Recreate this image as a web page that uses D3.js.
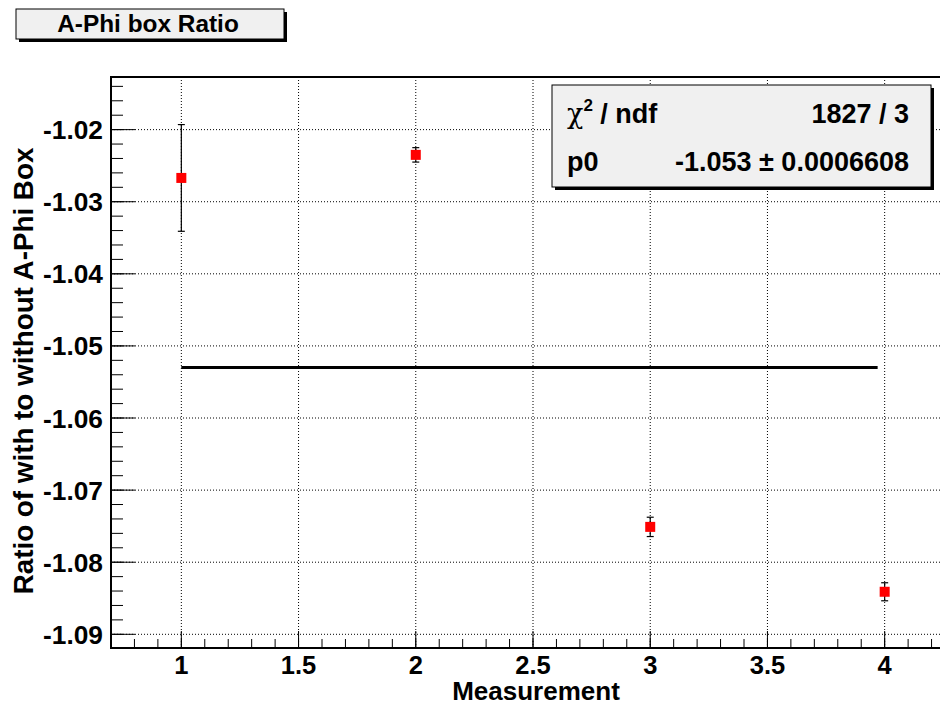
<!DOCTYPE html>
<html><head><meta charset="utf-8">
<script src="https://cdn.jsdelivr.net/npm/d3@7"></script>
<style>
body{margin:0;background:#fff;}
text{font-family:"Liberation Sans",Arial,Helvetica,sans-serif;font-weight:bold;fill:#000;}
</style></head><body>
<svg id="c" width="940" height="702"></svg>
<script>
// ---- data ----
const measurements = [1, 2, 3, 4];
const ratios = [-1.0267, -1.0235, -1.0751, -1.0841];
const errors = [0.0074, 0.0010, 0.00134, 0.00125];
const fitP0 = -1.053;
const fitRange = [1, 3.97];
const xMajorTicks = [1, 1.5, 2, 2.5, 3, 3.5, 4];
const yMajorTicks = [-1.02, -1.03, -1.04, -1.05, -1.06, -1.07, -1.08, -1.09];
const titleText = "A-Phi box Ratio";
const xTitle = "Measurement";
const yTitle = "Ratio of with to without A-Phi Box";
const statsLabels = ["/ ndf", "p0"];
const statsValues = ["1827 / 3", "-1.053 \u00b1 0.0006608"];

(function () {
const svg = d3.select("#c");
const W = 940, H = 702;
const pL = 111, pR = 955, pT = 77, pB = 648;
const x = d3.scaleLinear().domain([0.7, 4.3]).range([pL, pR]);
const y = d3.scaleLinear().domain([-1.0919, -1.0127]).range([pB, pT]);

svg.append("rect").attr("width", W).attr("height", H).attr("fill", "#fff");

// grid
const g = svg.append("g");
g.selectAll(".gx").data(xMajorTicks).enter().append("line")
  .attr("x1", d => x(d)).attr("x2", d => x(d)).attr("y1", pT).attr("y2", pB)
  .attr("stroke", "#000").attr("stroke-width", 1).attr("stroke-dasharray", "1,2");
g.selectAll(".gy").data(yMajorTicks).enter().append("line")
  .attr("x1", pL).attr("x2", pR).attr("y1", d => y(d)).attr("y2", d => y(d))
  .attr("stroke", "#000").attr("stroke-width", 1).attr("stroke-dasharray", "1,2");

// ticks
const xMinor = d3.range(8, 43).map(i => i / 10);
const yMinor = d3.range(-1090, -1012, 2).map(i => i / 1000);
const t = svg.append("g");
t.selectAll(".xm").data(xMinor).enter().append("line")
  .attr("x1", d => x(d)).attr("x2", d => x(d)).attr("y1", pB).attr("y2", pB - 9)
  .attr("stroke", "#000").attr("stroke-width", 1);
t.selectAll(".xM").data(xMajorTicks).enter().append("line")
  .attr("x1", d => x(d)).attr("x2", d => x(d)).attr("y1", pB).attr("y2", pB - 17)
  .attr("stroke", "#000").attr("stroke-width", 1);
t.selectAll(".ym").data(yMinor).enter().append("line")
  .attr("x1", pL).attr("x2", pL + 12).attr("y1", d => y(d)).attr("y2", d => y(d))
  .attr("stroke", "#000").attr("stroke-width", 1);
t.selectAll(".yM").data(yMajorTicks).enter().append("line")
  .attr("x1", pL).attr("x2", pL + 24).attr("y1", d => y(d)).attr("y2", d => y(d))
  .attr("stroke", "#000").attr("stroke-width", 1);

// frame
svg.append("rect").attr("x", pL).attr("y", pT).attr("width", pR - pL).attr("height", pB - pT)
  .attr("fill", "none").attr("stroke", "#000").attr("stroke-width", 2);

// tick labels
svg.selectAll(".xl").data(xMajorTicks).enter().append("text")
  .attr("x", d => x(d)).attr("y", 674).attr("text-anchor", "middle").attr("font-size", 25.5)
  .text(d => d3.format("")(d));
svg.selectAll(".yl").data(yMajorTicks).enter().append("text")
  .attr("x", 103).attr("y", d => y(d) + 9.5).attr("text-anchor", "end").attr("font-size", 26.3)
  .text(d => d.toFixed(2));

// axis titles
svg.append("text").attr("x", 536).attr("y", 700).attr("text-anchor", "middle").attr("font-size", 26).text(xTitle);
svg.append("text").attr("transform", "translate(33,371) rotate(-90)").attr("text-anchor", "middle")
  .attr("font-size", 27.8).text(yTitle);

// fit line
svg.append("line").attr("x1", x(fitRange[0])).attr("x2", x(fitRange[1]))
  .attr("y1", y(fitP0)).attr("y2", y(fitP0)).attr("stroke", "#000").attr("stroke-width", 3);

// error bars & markers
const pts = measurements.map((m, i) => ({m, v: ratios[i], e: errors[i]}));
const eb = svg.append("g");
pts.forEach(p => {
  eb.append("line").attr("x1", x(p.m)).attr("x2", x(p.m)).attr("y1", y(p.v + p.e)).attr("y2", y(p.v - p.e))
    .attr("stroke", "#000").attr("stroke-width", 1.2);
  [p.v + p.e, p.v - p.e].forEach(v => eb.append("line")
    .attr("x1", x(p.m) - 3.5).attr("x2", x(p.m) + 3.5).attr("y1", y(v)).attr("y2", y(v))
    .attr("stroke", "#000").attr("stroke-width", 1.2));
});
svg.selectAll(".pt").data(pts).enter().append("rect")
  .attr("x", d => x(d.m) - 5).attr("y", d => y(d.v) - 5).attr("width", 10).attr("height", 10)
  .attr("fill", "#ff0000");

// stats box
svg.append("rect").attr("x", 555).attr("y", 88).attr("width", 379).attr("height", 102).attr("fill", "#000");
svg.append("rect").attr("x", 552).attr("y", 85).attr("width", 379).attr("height", 102)
  .attr("fill", "#f0f0f0").attr("stroke", "#000").attr("stroke-width", 1);
const r1 = svg.append("text").attr("x", 567).attr("y", 123).attr("font-size", 27);
r1.append("tspan").attr("font-weight", "normal").attr("font-family", "DejaVu Serif, serif").text("\u03c7");
r1.append("tspan").attr("font-size", 17).attr("dy", -12).text("2");
r1.append("tspan").attr("dy", 12).text(" " + statsLabels[0]);
svg.append("text").attr("x", 567).attr("y", 171).attr("font-size", 27).text(statsLabels[1]);
svg.selectAll(".sv").data(statsValues).enter().append("text")
  .attr("x", 909).attr("y", (d, i) => 123 + i * 48).attr("text-anchor", "end").attr("font-size", 27).text(d => d);

// title box
svg.append("rect").attr("x", 19).attr("y", 12).attr("width", 268).attr("height", 30).attr("fill", "#000");
svg.append("rect").attr("x", 16).attr("y", 9).attr("width", 268).attr("height", 30)
  .attr("fill", "#f0f0f0").attr("stroke", "#000").attr("stroke-width", 1);
svg.append("text").attr("x", 148).attr("y", 32).attr("text-anchor", "middle").attr("font-size", 24.4).text(titleText);
})();
</script>
</body></html>
